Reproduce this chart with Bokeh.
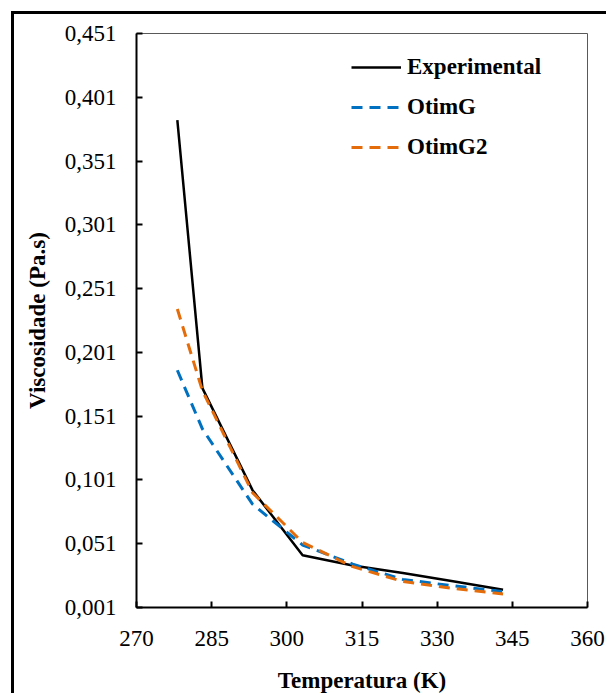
from bokeh.plotting import figure
from bokeh.models import Range1d, FixedTicker, Legend, LegendItem, GlobalInlineStyleSheet
from bokeh.embed import file_html
from bokeh.resources import INLINE

# ---- data ----
temperature = [278.15, 283.15, 293.15, 303.15, 313.15, 323.15, 333.15, 343.15]
experimental = [0.383, 0.173, 0.093, 0.042, 0.034, 0.028, 0.0215, 0.015]
otimg = [0.187, 0.141, 0.082, 0.050, 0.035, 0.023, 0.018, 0.0135]
otimg2 = [0.235, 0.171, 0.091, 0.052, 0.033, 0.0214, 0.016, 0.0116]

series_names = ["Experimental", "OtimG", "OtimG2"]
x_ticks = [270, 285, 300, 315, 330, 345, 360]
y_ticks = [0.001, 0.051, 0.101, 0.151, 0.201, 0.251, 0.301, 0.351, 0.401, 0.451]
y_tick_labels = ["0,001", "0,051", "0,101", "0,151", "0,201", "0,251",
                 "0,301", "0,351", "0,401", "0,451"]
x_title = "Temperatura (K)"
y_title = "Viscosidade (Pa.s)"

FONT = "Liberation Serif"
FS = "23px"

page_css = GlobalInlineStyleSheet(css="html, body { margin: 0; overflow: hidden; }")

p = figure(width=595, height=682,
           x_range=Range1d(270, 360), y_range=Range1d(0.001, 0.451),
           output_backend="svg", toolbar_location=None,
           min_border_left=122, min_border_right=22,
           min_border_top=19, min_border_bottom=89,
           background_fill_color="white", border_fill_color="white",
           styles={"margin-left": "14px", "margin-top": "14px",
                   "box-shadow": "-3px -3px 0px 0px #000000"},
           stylesheets=[page_css])

p.xgrid.visible = False
p.ygrid.visible = False
p.outline_line_color = "#595959"
p.outline_line_width = 1

for ax in (p.xaxis[0], p.yaxis[0]):
    ax.axis_line_color = "black"
    ax.axis_line_width = 2
    ax.major_tick_line_color = "black"
    ax.major_tick_line_width = 2
    ax.major_tick_in = 6
    ax.major_tick_out = 0
    ax.minor_tick_line_color = None
    ax.major_label_text_font = FONT
    ax.major_label_text_font_size = FS
    ax.major_label_text_font_style = "normal"
    ax.major_label_text_color = "black"
    ax.axis_label_text_font = FONT
    ax.axis_label_text_font_size = FS
    ax.axis_label_text_font_style = "bold"
    ax.axis_label_text_color = "black"

p.xaxis.ticker = FixedTicker(ticks=x_ticks)
p.yaxis.ticker = FixedTicker(ticks=y_ticks)
p.yaxis.major_label_overrides = {t: lab for t, lab in zip(y_ticks, y_tick_labels)}
p.xaxis.major_label_standoff = 23
p.yaxis.major_label_standoff = 20
p.xaxis.axis_label = x_title
p.yaxis.axis_label = y_title
p.xaxis.axis_label_standoff = 19
p.yaxis.axis_label_standoff = 12

r1 = p.line(temperature, experimental, line_color="black", line_width=2.5)
r2 = p.line(temperature, otimg, line_color="#0070C0", line_width=3, line_dash="11 7")
r3 = p.line(temperature, otimg2, line_color="#E46C0A", line_width=3, line_dash="11 7")

legend = Legend(items=[LegendItem(label=series_names[0], renderers=[r1]),
                       LegendItem(label=series_names[1], renderers=[r2]),
                       LegendItem(label=series_names[2], renderers=[r3])],
                location=(215, 445),
                glyph_width=50, glyph_height=30, label_height=30,
                spacing=10, padding=0, margin=0, label_standoff=6,
                border_line_color=None, background_fill_alpha=0,
                label_text_font=FONT, label_text_font_style="bold",
                label_text_font_size=FS, label_text_color="black")
p.add_layout(legend)

open("out.html", "w").write(file_html(p, INLINE))
